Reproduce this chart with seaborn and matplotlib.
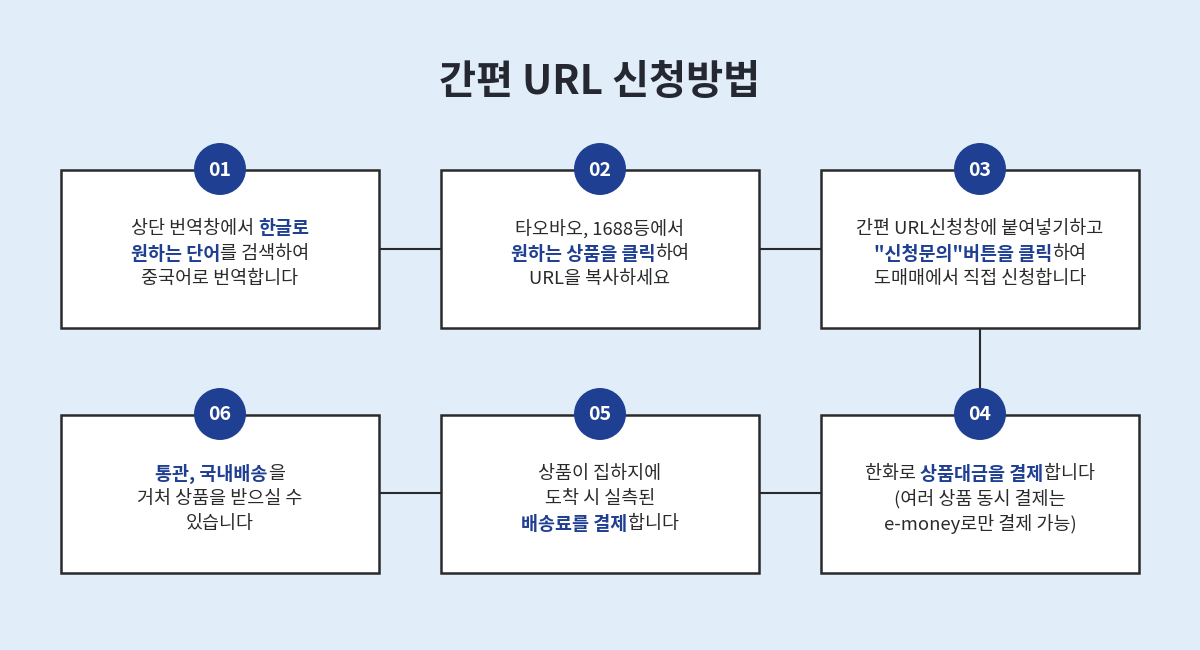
import re
import matplotlib
matplotlib.use("Agg")
import matplotlib.pyplot as plt
from matplotlib.patches import Rectangle
import seaborn as sns
import pandas as pd

title = "간편 URL 신청방법"
step_labels = ["01", "02", "03", "04", "05", "06"]
# grid position (col, row) for each step
step_cols = [0, 1, 2, 2, 1, 0]
step_rows = [0, 0, 0, 1, 1, 1]
step_texts = [
    ["상단 번역창에서 **한글로**", "**원하는 단어**를 검색하여", "중국어로 번역합니다"],
    ["타오바오, 1688등에서", "**원하는 상품을 클릭**하여", "URL을 복사하세요"],
    ["간편 URL신청창에 붙여넣기하고", "**\"신청문의\"버튼을 클릭**하여", "도매매에서 직접 신청합니다"],
    ["한화로 **상품대금을 결제**합니다", "(여러 상품 동시 결제는", "e-money로만 결제 가능)"],
    ["상품이 집하지에", "도착 시 실측된", "**배송료를 결제**합니다"],
    ["**통관, 국내배송**을", "거처 상품을 받으실 수", "있습니다"],
]

BG = "#e1edf9"
NAVY = "#1f3f93"
DARK = "#2a2a2a"
FONT = ["Noto Sans CJK KR", "DejaVu Sans"]

sns.set_theme(style="white")
plt.rcParams["font.family"] = FONT

fig = plt.figure(figsize=(12, 6.5), dpi=100, facecolor=BG)
ax = fig.add_axes([0, 0, 1, 1])
ax.set_facecolor(BG)
ax.set_xlim(0, 1200)
ax.set_ylim(650, 0)
ax.axis("off")

box_x = [61, 441, 821]
box_y = [170, 415]
bw, bh = 318, 158

lk = dict(color=DARK, lw=1.5, zorder=1)
ax.plot([379, 441], [249, 249], **lk)
ax.plot([759, 821], [249, 249], **lk)
ax.plot([980, 980], [328, 415], **lk)
ax.plot([379, 441], [493, 493], **lk)
ax.plot([759, 821], [493, 493], **lk)

for c, r in zip(step_cols, step_rows):
    ax.add_patch(Rectangle((box_x[c], box_y[r]), bw, bh, facecolor="white",
                           edgecolor=DARK, lw=1.8, zorder=2))

df = pd.DataFrame({
    "x": [box_x[c] + bw / 2 for c in step_cols],
    "y": [box_y[r] - 1 for r in step_rows],
    "label": step_labels,
})
sns.scatterplot(data=df, x="x", y="y", s=1400, color=NAVY, edgecolor="none",
                ax=ax, zorder=3, legend=False)
for _, row in df.iterrows():
    ax.text(row.x, row.y + 1, row.label, ha="center", va="center", color="white",
            fontsize=14, fontweight="bold", zorder=4)

ax.text(600, 82, title, ha="center", va="center", fontsize=29, fontweight="bold",
        color="#252830")

fig.canvas.draw()
renderer = fig.canvas.get_renderer()

def rich_line(cx, cy, line):
    parts = [p for p in re.split(r"(\*\*.*?\*\*)", line) if p]
    items = []
    for p in parts:
        bold = p.startswith("**")
        t = p.strip("*") if bold else p
        txt = ax.text(0, cy, t, ha="left", va="center", fontsize=13.3,
                      fontweight="bold" if bold else "normal",
                      color=NAVY if bold else DARK, zorder=5)
        items.append(txt)
    widths = [it.get_window_extent(renderer).width for it in items]
    x = cx - sum(widths) / 2
    for it, w in zip(items, widths):
        it.set_x(x)
        x += w

for (c, r), lines in zip(zip(step_cols, step_rows), step_texts):
    cx = box_x[c] + bw / 2
    cy0 = box_y[r] + 59
    for i, line in enumerate(lines):
        rich_line(cx, cy0 + i * 25, line)

fig.savefig("out.png", dpi=100, facecolor=BG)
